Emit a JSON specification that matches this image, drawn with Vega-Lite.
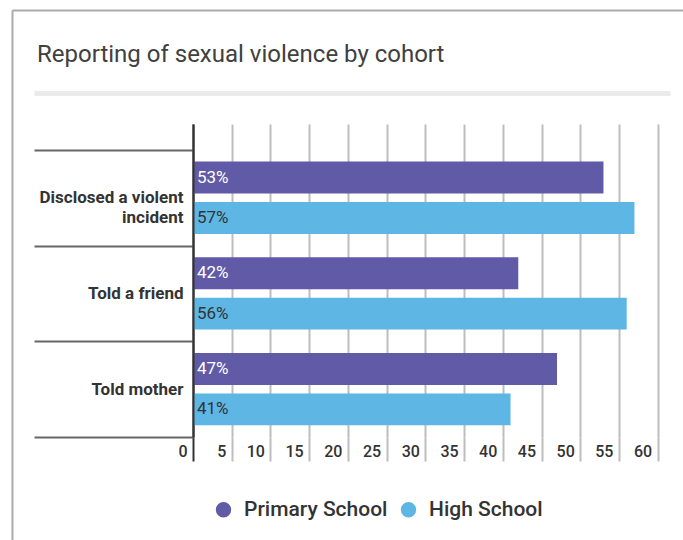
{
  "$schema": "https://vega.github.io/schema/vega-lite/v6.json",
  "width": 636,
  "height": 313,
  "autosize": {"type": "none"},
  "padding": {"left": 34, "top": 124, "right": 13, "bottom": 103},
  "background": "white",
  "title": {
    "text": "Reporting of sexual violence by cohort",
    "anchor": "start",
    "frame": "group",
    "dx": 3,
    "offset": -76,
    "baseline": "alphabetic",
    "font": "Roboto",
    "fontSize": 24,
    "fontWeight": 400,
    "color": "#404040"
  },
  "config": {"view": {"stroke": null}, "font": "Roboto"},
  "data": {
    "values": [
      {"category": "Disclosed a violent incident", "cohort": "Primary School", "value": 53},
      {"category": "Disclosed a violent incident", "cohort": "High School", "value": 57},
      {"category": "Told a friend", "cohort": "Primary School", "value": 42},
      {"category": "Told a friend", "cohort": "High School", "value": 56},
      {"category": "Told mother", "cohort": "Primary School", "value": 47},
      {"category": "Told mother", "cohort": "High School", "value": 41}
    ]
  },
  "layer": [
    {
      "encoding": {
        "y": {
          "field": "category",
          "type": "nominal",
          "sort": ["Disclosed a violent incident", "Told a friend", "Told mother"],
          "scale": {"paddingInner": 0, "paddingOuter": 0.1353, "align": 1},
          "axis": {
            "orient": "left",
            "offset": -159,
            "title": null,
            "domain": true,
            "domainColor": "#333",
            "domainWidth": 2,
            "ticks": true,
            "tickBand": "extent",
            "tickSize": 159,
            "tickColor": "#666",
            "tickWidth": 2,
            "grid": false,
            "labelPadding": -149,
            "labelFont": "Roboto",
            "labelFontSize": 17,
            "labelFontWeight": "bold",
            "labelColor": "#333",
            "labelLineHeight": 20,
            "labelLimit": 200,
            "labelExpr": "datum.label == 'Disclosed a violent incident' ? ['Disclosed a violent', 'incident'] : datum.label",
            "zindex": 1
          }
        },
        "yOffset": {
          "field": "cohort",
          "type": "nominal",
          "sort": ["Primary School", "High School"],
          "scale": {"paddingInner": 0.21, "paddingOuter": 0.29}
        }
      },
      "layer": [
        {
          "mark": {"type": "bar"},
          "encoding": {
            "x": {
              "field": "value",
              "type": "quantitative",
              "scale": {"domain": [-20.53, 61.59], "nice": false, "zero": false},
              "axis": {
                "orient": "bottom",
                "values": [0, 5, 10, 15, 20, 25, 30, 35, 40, 45, 50, 55, 60],
                "title": null,
                "domain": false,
                "grid": true,
                "gridColor": {"condition": {"test": "datum.value === 0", "value": "#333"}, "value": "#bdbdbd"},
                "gridWidth": 2,
                "ticks": true,
                "tickSize": 24,
                "tickWidth": 2,
                "tickColor": {"condition": {"test": "datum.value === 0", "value": "#333"}, "value": "#bdbdbd"},
                "labelAlign": "right",
                "labelOffset": -6,
                "labelPadding": -5,
                "labelBaseline": "alphabetic",
                "labelFlush": false,
                "labelOverlap": false,
                "labelFontSize": 16,
                "labelFontWeight": 500,
                "labelColor": "#333"
              }
            },
            "x2": {"datum": 0},
            "color": {
              "field": "cohort",
              "type": "nominal",
              "scale": {"domain": ["Primary School", "High School"], "range": ["#615aa6", "#5db6e3"]},
              "legend": {
                "orient": "none",
                "legendX": 179,
                "legendY": 375,
                "direction": "horizontal",
                "title": null,
                "symbolType": "circle",
                "symbolSize": 235,
                "symbolStrokeWidth": 0,
                "labelFontSize": 21,
                "labelFontWeight": 500,
                "labelColor": "#333",
                "labelOffset": 10,
                "columnPadding": 10,
                "padding": 0
              }
            }
          }
        },
        {
          "transform": [{"calculate": "datum.value + '%'", "as": "label"}],
          "mark": {"type": "text", "align": "left", "baseline": "middle", "dx": 4, "fontSize": 17},
          "encoding": {
            "x": {
              "datum": 0,
              "type": "quantitative",
              "axis": {
                "orient": "top",
                "offset": 31,
                "title": null,
                "domain": true,
                "domainColor": "#ebebeb",
                "domainWidth": 5,
                "ticks": false,
                "labels": false,
                "grid": false
              }
            },
            "text": {"field": "label"},
            "color": {"condition": {"test": "datum.cohort === 'Primary School'", "value": "white"}, "value": "#333"}
          }
        }
      ],
      "resolve": {"axis": {"x": "independent"}}
    },
    {
      "data": {"values": [{"frame": 0}]},
      "mark": {"type": "point", "opacity": 0},
      "encoding": {
        "x": {
          "field": "frame",
          "type": "quantitative",
          "scale": {"domain": [0, 1], "range": [-22, 700]},
          "axis": {
            "orient": "top",
            "offset": 114,
            "title": null,
            "domain": true,
            "domainColor": "#ababab",
            "domainWidth": 2,
            "ticks": false,
            "labels": false,
            "grid": false
          }
        },
        "y": {
          "field": "frame",
          "type": "quantitative",
          "scale": {"domain": [0, 1], "range": [500, -114]},
          "axis": {
            "orient": "left",
            "offset": 22,
            "title": null,
            "domain": true,
            "domainColor": "#ababab",
            "domainWidth": 2,
            "ticks": false,
            "labels": false,
            "grid": false
          }
        }
      }
    }
  ],
  "resolve": {
    "scale": {"x": "independent", "y": "independent"},
    "axis": {"x": "independent", "y": "independent"}
  }
}
